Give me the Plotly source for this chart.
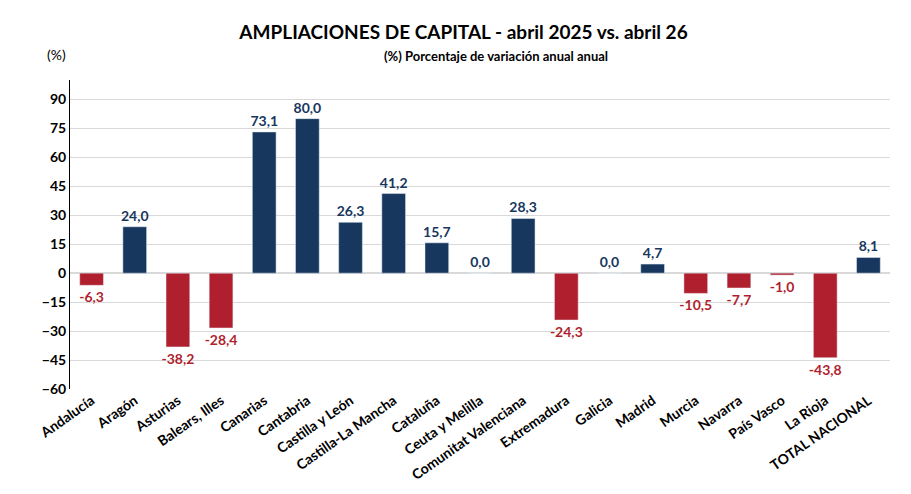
import plotly.graph_objects as go

regiones = ["Andalucía", "Aragón", "Asturias", "Balears, Illes", "Canarias", "Cantabria",
            "Castilla y León", "Castilla-La Mancha", "Cataluña", "Ceuta y Melilla",
            "Comunitat Valenciana", "Extremadura", "Galicia", "Madrid", "Murcia",
            "Navarra", "País Vasco", "La Rioja", "TOTAL NACIONAL"]
variacion = [-6.3, 24.0, -38.2, -28.4, 73.1, 80.0, 26.3, 41.2, 15.7, 0.0,
             28.3, -24.3, 0.0, 4.7, -10.5, -7.7, -1.0, -43.8, 8.1]

azul = "#17375E"
rojo = "#B01F2E"
colores = [rojo if v < 0 else azul for v in variacion]
etiquetas = [f"{v:.1f}".replace(".", ",") for v in variacion]

fig = go.Figure()
fig.add_trace(go.Bar(
    x=regiones, y=variacion, marker_color=colores, width=0.55,
    text=etiquetas, textposition="outside", cliponaxis=False,
    textfont=dict(color=colores, size=14, family="Lato", weight="bold"),
))

fig.update_layout(
    width=911, height=494, plot_bgcolor="white", paper_bgcolor="white",
    margin=dict(l=62, r=29, t=72, b=113, autoexpand=False), showlegend=False,
    font=dict(family="Lato", size=13, color="black"),
    uniformtext=dict(minsize=14, mode="show"),
    title=dict(text="<b>AMPLIACIONES DE CAPITAL - abril 2025 vs. abril 26</b>",
               x=0.5, xanchor="center", y=0.95, yanchor="middle",
               font=dict(size=19)),
    annotations=[
        dict(text="<b>(%) Porcentaje de variación anual anual</b>", xref="paper", yref="paper",
             x=0.52, y=1.11, showarrow=False, font=dict(size=13)),
        dict(text="(%)", xref="paper", yref="paper", x=-0.03, y=1.115,
             showarrow=False, font=dict(size=14)),
    ],
)
fig.update_yaxes(range=[-60, 100], tickvals=list(range(-60, 91, 15)),
                 showgrid=True, gridcolor="#D9D9D9", zeroline=True,
                 zerolinecolor="#D9D9D9", showline=True, linecolor="black",
                 tickfont=dict(size=14, weight="bold"), ticks="", automargin=False)
fig.update_xaxes(tickangle=-35, tickfont=dict(size=14, weight="bold"), showline=False,
                 automargin=False)

fig.write_html("out.html")
